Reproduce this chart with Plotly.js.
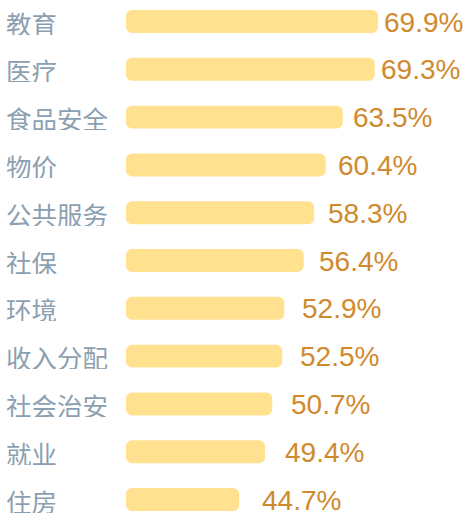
<!DOCTYPE html>
<html>
<head>
<meta charset="utf-8">
<script src="https://cdn.plot.ly/plotly-3.0.1.min.js"></script>
<style>html,body{margin:0;padding:0;background:#fff;}#chart{width:464px;height:515px;}</style>
</head>
<body>
<div id="chart"></div>
<script>
const categories = ["教育","医疗","食品安全","物价","公共服务","社保","环境","收入分配","社会治安","就业","住房"];
const values = [69.9, 69.3, 63.5, 60.4, 58.3, 56.4, 52.9, 52.5, 50.7, 49.4, 44.7];
const valueLabels = ["69.9%","69.3%","63.5%","60.4%","58.3%","56.4%","52.9%","52.5%","50.7%","49.4%","44.7%"];

// bar scale and (separate) label scale
const AXIS_MIN = 24.16, AXIS_MAX = 85.5;
const LABEL_AXIS_MIN = 16.56, LABEL_AXIS_MAX = 86.10;

const bars = {
  type: 'bar',
  orientation: 'h',
  y: categories,
  base: AXIS_MIN,
  x: values.map(v => v - AXIS_MIN),
  marker: {color: '#FFE18F', cornerradius: 6},
  hoverinfo: 'none'
};
const labelAnchor = {
  type: 'scatter', mode: 'markers',
  x: values, y: categories, xaxis: 'x2', yaxis: 'y',
  marker: {opacity: 0, size: 1}, hoverinfo: 'none'
};

const annotations = [];
categories.forEach((c, i) => {
  annotations.push({
    x: values[i], y: c, xref: 'x2', yref: 'y',
    text: valueLabels[i], showarrow: false,
    xanchor: 'left', yanchor: 'middle', xshift: -2, borderpad: 0, height: 26,
    font: {family: 'Liberation Sans, Arial, sans-serif', size: 28, color: '#D08A2E'}
  });
  annotations.push({
    x: 0, y: c, xref: 'paper', yref: 'y',
    text: c, showarrow: false,
    xanchor: 'left', yanchor: 'middle', xshift: -121, borderpad: 0, height: 26,
    font: {family: 'Noto Sans CJK SC, sans-serif', size: 25.5, color: '#8C9FB0'}
  });
});

const layout = {
  width: 464, height: 515,
  margin: {l: 126, r: 0, t: 0, b: 0, pad: 0},
  paper_bgcolor: '#fff', plot_bgcolor: '#fff',
  bargap: 0.52,
  showlegend: false,
  xaxis: {range: [AXIS_MIN, AXIS_MAX], visible: false, fixedrange: true},
  xaxis2: {range: [LABEL_AXIS_MIN, LABEL_AXIS_MAX], overlaying: 'x', visible: false, fixedrange: true},
  yaxis: {type: 'category', range: [10.324, -0.45], visible: false, fixedrange: true},
  annotations: annotations
};

Plotly.newPlot('chart', [bars, labelAnchor], layout, {displayModeBar: false, staticPlot: true});
</script>
</body>
</html>
